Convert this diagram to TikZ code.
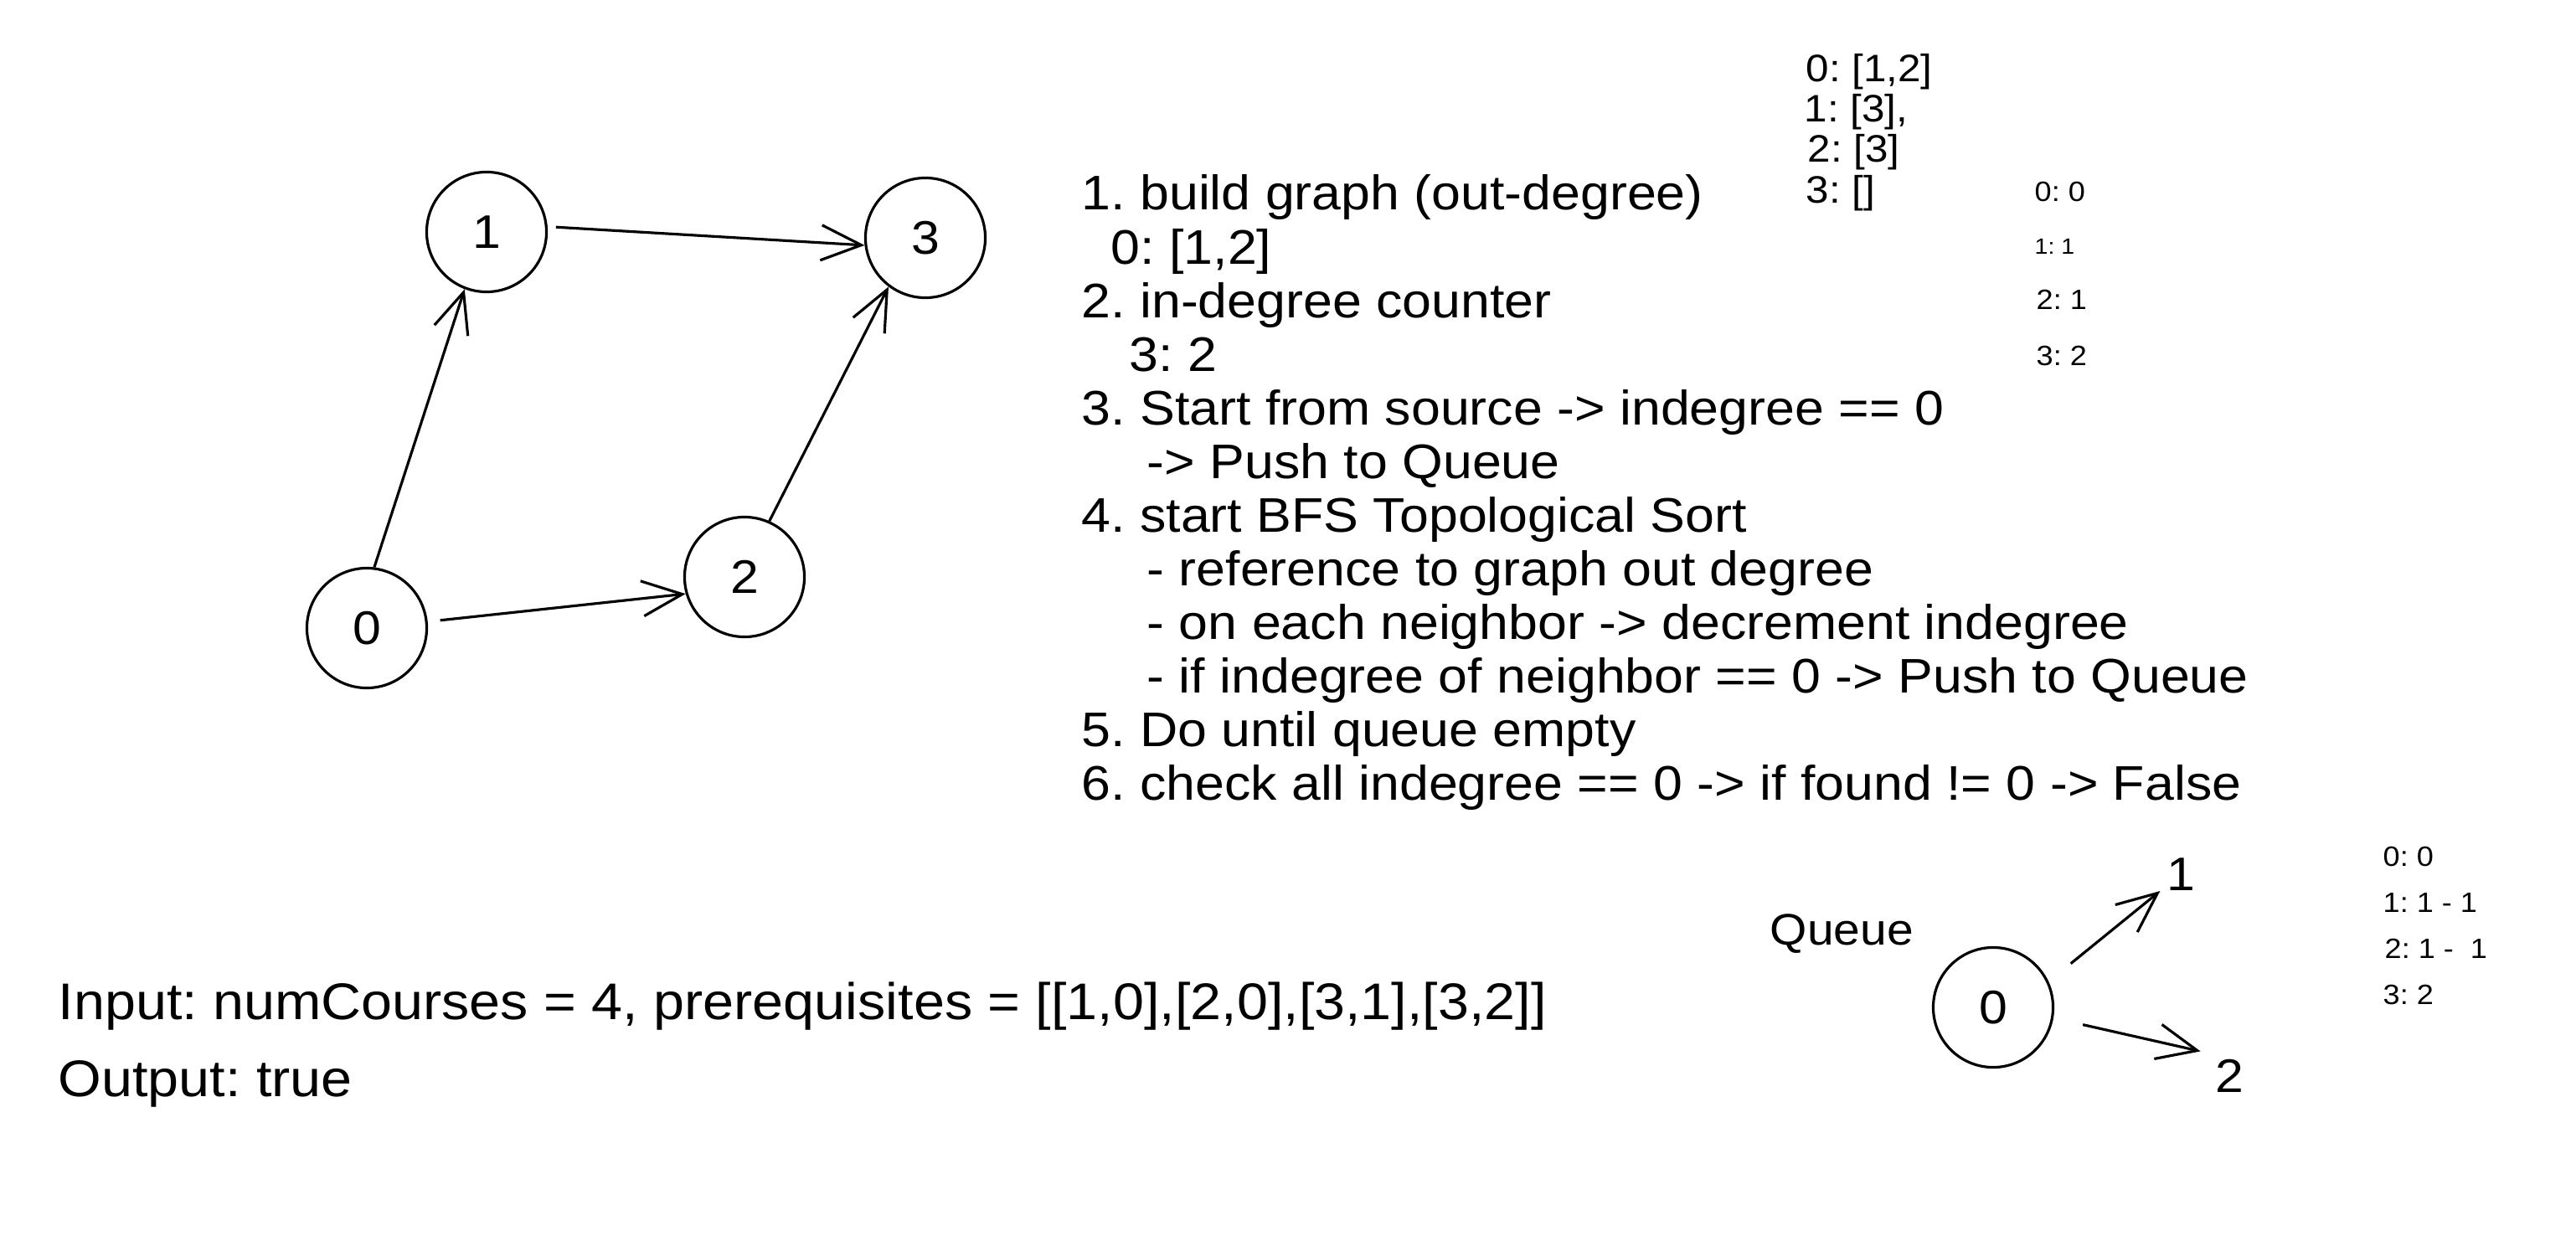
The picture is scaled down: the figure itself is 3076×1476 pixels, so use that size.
\documentclass[tikz,border=0pt]{standalone}
\usepackage{fontspec}
\setmainfont{Liberation Sans}[FakeStretch=1.08]
\usetikzlibrary{arrows.meta}

\begin{document}
\frenchspacing
\begin{tikzpicture}[x=0.01cm,y=-0.01cm,
    vertex/.style={draw,circle,minimum size=1.43cm,line width=0.9pt,font=\fontsize{16}{19}\selectfont},
    edge/.style={line width=0.9pt,-{Straight Barb[length=4.8mm,width=4.2mm]}},
    label/.style={inner sep=2pt,font=\fontsize{16}{19}\selectfont},
    note/.style={anchor=base west,inner sep=0pt,font=\fontsize{16.5}{19}\selectfont},
    notebig/.style={anchor=base west,inner sep=0pt,font=\fontsize{17.5}{20}\selectfont},
    notesmall/.style={anchor=base west,inner sep=0pt,font=\fontsize{13}{15}\selectfont},
    notetiny/.style={anchor=base west,inner sep=0pt,font=\fontsize{9.5}{11}\selectfont}]
  \useasboundingbox (0,0) rectangle (3076,1476);

  \node[vertex] (v0) at (438,750) {0};
  \node[vertex] (v1) at (581,277) {1};
  \node[vertex] (v2) at (889,689) {2};
  \node[vertex] (v3) at (1105,284) {3};
  \draw[edge] (v0.83) -- (v1.249);
  \draw[edge,shorten <=1mm] (v1.5) -- (v3.187);
  \draw[edge,shorten <=1.5mm] (v0.6) -- (v2.196);
  \draw[edge] (v2.66) -- (v3.233);

  \node[note] (s1) at (1291,251) {1. build graph (out-degree)};
  \node[note] (s1a) at (1326,315) {0: [1,2]};
  \node[note] (s2) at (1291,379) {2. in-degree counter};
  \node[note] (s2a) at (1348,443) {3: 2};
  \node[note] (s3) at (1291,507) {3. Start from source -> indegree == 0};
  \node[note] (s3a) at (1369,571) {-> Push to Queue};
  \node[note] (s4) at (1291,635) {4. start BFS Topological Sort};
  \node[note] (s4a) at (1369,699) {- reference to graph out degree};
  \node[note] (s4b) at (1369,763) {- on each neighbor -> decrement indegree};
  \node[note] (s4c) at (1369,827) {- if indegree of neighbor == 0 -> Push to Queue};
  \node[note] (s5) at (1291,891) {5. Do until queue empty};
  \node[note] (s6) at (1291,955) {6. check all indegree == 0 -> if found != 0 -> False};

  \node[notesmall] (g0) at (2156,98) {0: [1,2]};
  \node[notesmall] (g1) at (2154,146) {1: [3],};
  \node[notesmall] (g2) at (2158,194) {2: [3]};
  \node[notesmall] (g3) at (2156,242) {3: []};

  \node[notetiny] (d0) at (2429,240) {0: 0};
  \node[notetiny,font=\fontsize{7.5}{9}\selectfont] (d1) at (2429,304) {1: 1};
  \node[notetiny] (d2) at (2431,369) {2: 1};
  \node[notetiny] (d3) at (2431,436) {3: 2};

  \node[note,font=\fontsize{15}{18}\selectfont] (queue) at (2113,1128) {Queue};
  \node[vertex] (q0) at (2380,1203) {0};
  \node[label] (ql1) at (2604,1044) {1};
  \node[label] (ql2) at (2662,1285) {2};
  \draw[edge,shorten <=3.4mm] (q0.25) -- (ql1);
  \draw[edge,shorten <=3.6mm,shorten >=1mm] (q0.-10) -- (ql2.north west);

  \node[notetiny] (c0) at (2845,1034) {0: 0};
  \node[notetiny] (c1) at (2845,1089) {1: 1 - 1};
  \node[notetiny] (c2) at (2847,1144) {2: 1 - \ 1};
  \node[notetiny] (c3) at (2845,1199) {3: 2};

  \node[notebig] (input) at (69,1217) {Input: numCourses = 4, prerequisites = [[1,0],[2,0],[3,1],[3,2]]};
  \node[notebig] (output) at (69,1309) {Output: true};
\end{tikzpicture}
\end{document}
